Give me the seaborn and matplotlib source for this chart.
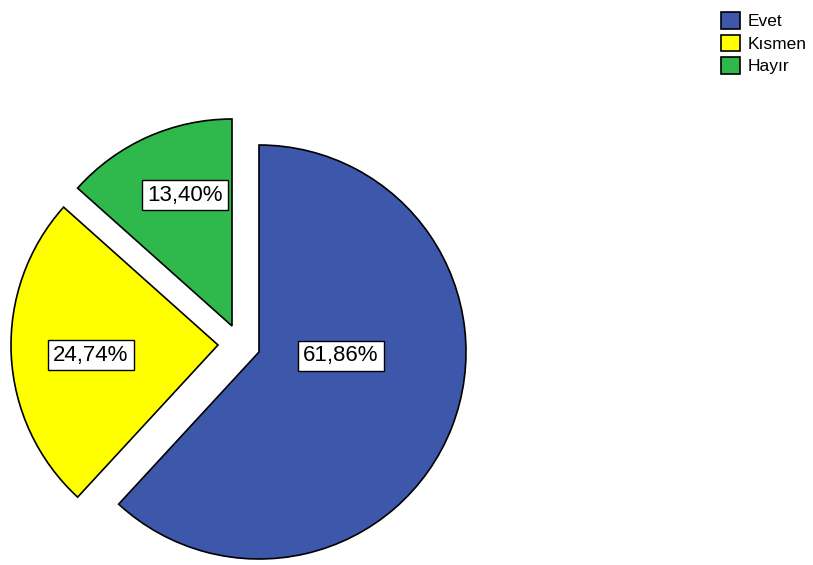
import matplotlib
matplotlib.use("Agg")
import matplotlib.pyplot as plt
import seaborn as sns

categories = ["Evet", "Kısmen", "Hayır"]
values = [61.86, 24.74, 13.40]
pct_labels = ["61,86%", "24,74%", "13,40%"]
colors = ["#3d58ab", "#ffff00", "#2fb84b"]

sns.set_theme(style="white")
plt.rcParams["font.family"] = ["Liberation Sans", "DejaVu Sans"]
plt.rcParams["text.color"] = "black"

W, H = 813, 565
fig = plt.figure(figsize=(W / 100, H / 100), dpi=100)
ax = fig.add_axes([0, 0, 1, 1])

center = (259, H - 352)
radius = 207
wedges, _ = ax.pie(values, colors=colors, startangle=90, counterclock=False,
                   radius=radius, center=center, frame=True,
                   wedgeprops=dict(edgecolor="black", linewidth=1.2))
ax.set_xlim(0, W)
ax.set_ylim(0, H)
ax.set_aspect("equal")
ax.axis("off")

# explode offsets (pixels) for the slices
offsets = [(0, 0), (-41, 7), (-27, 26)]
for w, (dx, dy) in zip(wedges, offsets):
    w.set_center((center[0] + dx, center[1] + dy))

# label positions relative to pie center (pixels)
label_pos = [(82, -4), (-168, -3), (-74, 157)]
for txt, (dx, dy) in zip(pct_labels, label_pos):
    ax.text(center[0] + dx, center[1] + dy, txt, ha="center", va="center",
            fontsize=16, color="black",
            bbox=dict(boxstyle="square,pad=0.22", fc="white", ec="black", lw=1))

leg = fig.legend(wedges, categories, loc="upper left",
                 bbox_to_anchor=(709 / W, 1 - 0 / H), frameon=False,
                 fontsize=12.5, handlelength=1.1, handleheight=1.1,
                 handletextpad=0.4, labelspacing=0.3, borderpad=0.2,
                 labelcolor="black")

fig.savefig("out.png", dpi=100)
